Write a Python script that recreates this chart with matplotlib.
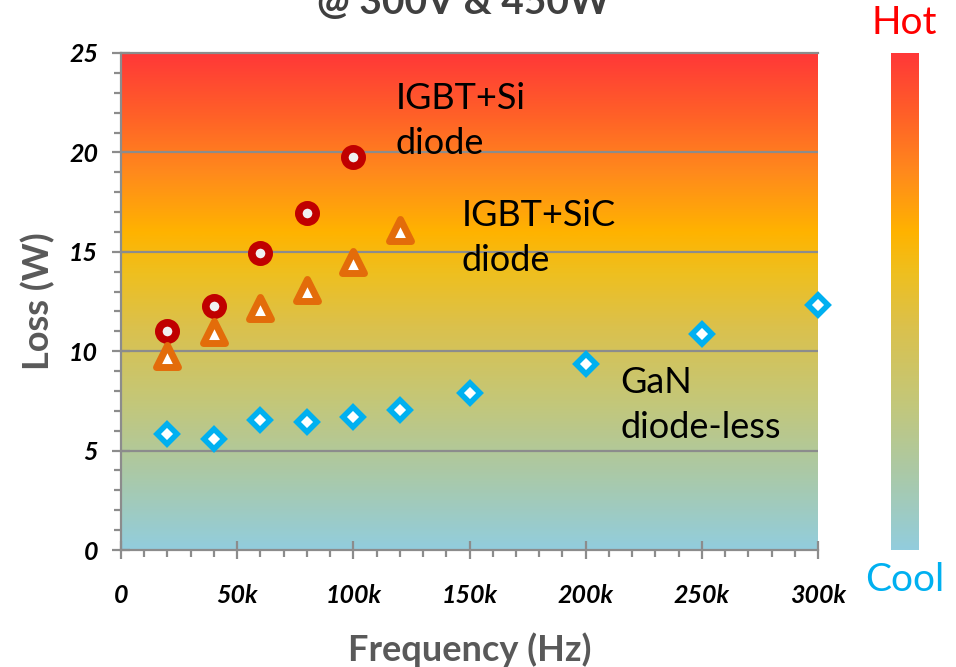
import numpy as np
import matplotlib
matplotlib.use("Agg")
import matplotlib.pyplot as plt
from matplotlib.colors import LinearSegmentedColormap
from matplotlib.markers import MarkerStyle
from matplotlib.ticker import MultipleLocator, FuncFormatter

plt.rcParams['font.family'] = ['Lato', 'DejaVu Sans']

# frequency (Hz) and loss (W) per device type
freq_si = [20e3, 40e3, 60e3, 80e3, 100e3]
loss_si = [11.0, 12.25, 14.95, 16.95, 19.75]

freq_sic = [20e3, 40e3, 60e3, 80e3, 100e3, 120e3]
loss_sic = [9.75, 10.95, 12.15, 13.1, 14.5, 16.1]

freq_gan = [20e3, 40e3, 60e3, 80e3, 100e3, 120e3, 150e3, 200e3, 250e3, 300e3]
loss_gan = [5.85, 5.6, 6.55, 6.45, 6.7, 7.05, 7.9, 9.35, 10.85, 12.3]

GRAY = '#8c8c8c'
LABEL_GRAY = '#595959'

heat = LinearSegmentedColormap.from_list('heat', [
    (0.00, '#92cddd'),
    (0.15, '#aac9a8'),
    (0.30, '#c4c778'),
    (0.45, '#dbc14c'),
    (0.56, '#efbf1e'),
    (0.64, '#ffb300'),
    (0.76, '#ff8a1c'),
    (0.88, '#ff5f28'),
    (1.00, '#ff3838'),
])
grad = np.linspace(0, 1, 256).reshape(-1, 1)

fig = plt.figure(figsize=(9.56, 6.67), dpi=100)
ax = fig.add_axes([121 / 956, 117 / 667, 697 / 956, 497 / 667])

ax.imshow(grad, extent=[0, 300e3, 0, 25], aspect='auto', origin='lower',
          cmap=heat, zorder=0, interpolation='bilinear')
ax.set_xlim(0, 300e3)
ax.set_ylim(0, 25)

for y in [5, 10, 15, 20]:
    ax.axhline(y, color=GRAY, lw=1.6, zorder=1)

tri = MarkerStyle('^', joinstyle='round')
ax.plot(freq_si, loss_si, ls='none', marker='o', ms=12.5, mew=5.5,
        mfc='#f0f0f0', mec='#c00000', zorder=3, clip_on=False)
ax.plot(freq_sic, loss_sic, ls='none', marker=tri, ms=15.5, mew=5,
        mfc='white', mec='#e36c0a', zorder=3, clip_on=False)
ax.plot(freq_gan, loss_gan, ls='none', marker='D', ms=10.5, mew=4,
        mfc='white', mec='#00b0f0', zorder=3, clip_on=False)

# axes styling
for side in ['left', 'bottom', 'top']:
    ax.spines[side].set_color(GRAY)
    ax.spines[side].set_linewidth(1.6)
ax.spines['right'].set_visible(False)

ax.yaxis.set_major_locator(MultipleLocator(5))
ax.yaxis.set_minor_locator(MultipleLocator(1))
ax.xaxis.set_major_locator(MultipleLocator(50e3))
ax.xaxis.set_minor_locator(MultipleLocator(10e3))
ax.xaxis.set_major_formatter(FuncFormatter(lambda v, p: '0' if v == 0 else f'{int(v/1000)}k'))

ax.tick_params(which='major', direction='inout', length=13, width=1.6, color=GRAY)
ax.tick_params(which='minor', direction='out', length=5, width=1.6, color=GRAY)
ax.tick_params(axis='y', which='major', pad=10)
ax.tick_params(axis='x', which='major', pad=18)
for lbl in ax.get_xticklabels() + ax.get_yticklabels():
    lbl.set_fontsize(18)
    lbl.set_fontweight('bold')
    lbl.set_fontstyle('italic')

ax.set_ylabel('Loss (W)', fontsize=26, fontweight='bold', color=LABEL_GRAY, labelpad=10)
ax.set_xlabel('Frequency (Hz)', fontsize=26, fontweight='bold', color=LABEL_GRAY, labelpad=18)

# series labels
ax.text(0.394, 0.863, 'IGBT+Si\ndiode', transform=ax.transAxes, fontsize=26,
        va='center', ha='left', linespacing=1.45)
ax.text(0.489, 0.628, 'IGBT+SiC\ndiode', transform=ax.transAxes, fontsize=26,
        va='center', ha='left', linespacing=1.45)
ax.text(0.717, 0.292, 'GaN\ndiode-less', transform=ax.transAxes, fontsize=26,
        va='center', ha='left', linespacing=1.45)

fig.text(463 / 956, 1 - 14 / 667, '@ 300V & 450W', fontsize=28, fontweight='bold',
         color='#404040', ha='center', va='baseline')

# temperature scale bar
cax = fig.add_axes([891 / 956, 117 / 667, 28 / 956, 497 / 667])
cax.imshow(grad, aspect='auto', origin='lower', cmap=heat, interpolation='bilinear')
cax.set_axis_off()
fig.text(904 / 956, 1 - 23 / 667, 'Hot', fontsize=28, color='#ff0000', ha='center', va='center')
fig.text(905 / 956, 1 - 580 / 667, 'Cool', fontsize=28, color='#00b0f0', ha='center', va='center')

fig.savefig('out.png', dpi=100)
